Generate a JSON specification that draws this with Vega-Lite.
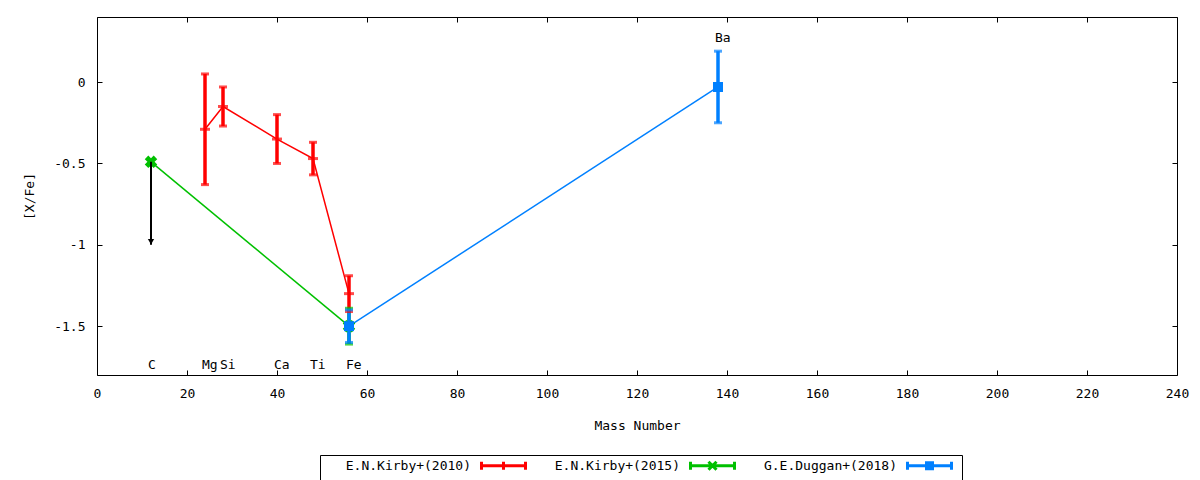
{
  "$schema": "https://vega.github.io/schema/vega-lite/v6.json",
  "width": 1080,
  "height": 358,
  "autosize": "none",
  "padding": {"left": 97, "top": 17, "right": 23, "bottom": 105},
  "background": "white",
  "config": {
    "font": "DejaVu Sans Mono",
    "view": {"stroke": "black", "strokeWidth": 1},
    "axis": {
      "domain": false,
      "grid": false,
      "tickColor": "black",
      "tickSize": -5,
      "tickWidth": 1,
      "labelColor": "black",
      "labelFont": "DejaVu Sans Mono",
      "labelFontSize": 13,
      "labelFlush": false,
      "titleFont": "DejaVu Sans Mono",
      "titleFontSize": 13,
      "titleFontWeight": "normal",
      "titleColor": "black"
    },
    "legend": {
      "orient": "none",
      "legendX": 223,
      "legendY": 438,
      "direction": "horizontal",
      "columns": 3,
      "title": " ",
      "titleOrient": "left",
      "titlePadding": 173,
      "titleFontSize": 13,
      "strokeColor": "black",
      "fillColor": "white",
      "padding": 4,
      "cornerRadius": 0,
      "columnPadding": 22,
      "labelAlign": "right",
      "labelOffset": -39,
      "labelFont": "DejaVu Sans Mono",
      "labelFontSize": 13,
      "labelColor": "black",
      "labelLimit": 300,
      "symbolSize": 100,
      "symbolStrokeWidth": 3,
      "symbolOpacity": 1
    }
  },
  "datasets": {
    "pts": [
      {"series": "E.N.Kirby+(2010)", "elem": "Mg", "mass": 24, "xfe": -0.29, "lo": -0.63, "hi": 0.05},
      {"series": "E.N.Kirby+(2010)", "elem": "Si", "mass": 28, "xfe": -0.15, "lo": -0.27, "hi": -0.03},
      {"series": "E.N.Kirby+(2010)", "elem": "Ca", "mass": 40, "xfe": -0.35, "lo": -0.50, "hi": -0.20},
      {"series": "E.N.Kirby+(2010)", "elem": "Ti", "mass": 48, "xfe": -0.47, "lo": -0.57, "hi": -0.37},
      {"series": "E.N.Kirby+(2010)", "elem": "Fe", "mass": 56, "xfe": -1.30, "lo": -1.41, "hi": -1.19},
      {"series": "E.N.Kirby+(2015)", "elem": "C", "mass": 12, "xfe": -0.49, "lo": null, "hi": null},
      {"series": "E.N.Kirby+(2015)", "elem": "Fe", "mass": 56, "xfe": -1.50, "lo": -1.61, "hi": -1.39},
      {"series": "G.E.Duggan+(2018)", "elem": "Fe", "mass": 56, "xfe": -1.50, "lo": -1.60, "hi": -1.40},
      {"series": "G.E.Duggan+(2018)", "elem": "Ba", "mass": 138, "xfe": -0.03, "lo": -0.25, "hi": 0.19}
    ],
    "limits": [
      {"elem": "C", "mass": 12, "from": -0.49, "to": -1.0}
    ],
    "labels": [
      {"elem": "C", "mass": 12, "y": -1.737},
      {"elem": "Mg", "mass": 24, "y": -1.737},
      {"elem": "Si", "mass": 28, "y": -1.737},
      {"elem": "Ca", "mass": 40, "y": -1.737},
      {"elem": "Ti", "mass": 48, "y": -1.737},
      {"elem": "Fe", "mass": 56, "y": -1.737},
      {"elem": "Ba", "mass": 138, "y": 0.268}
    ]
  },
  "resolve": {
    "axis": {"x": "independent", "y": "independent"},
    "legend": {"color": "independent", "shape": "independent"}
  },
  "layer": [
    {
      "data": {"name": "pts"},
      "mark": {"type": "line", "strokeWidth": 1.5},
      "encoding": {
        "x": {
          "field": "mass",
          "type": "quantitative",
          "scale": {"domain": [0, 240], "nice": false, "zero": false},
          "axis": {
            "orient": "bottom",
            "values": [0, 20, 40, 60, 80, 100, 120, 140, 160, 180, 200, 220, 240],
            "title": "Mass Number",
            "labelPadding": 17,
            "titlePadding": 19
          }
        },
        "y": {
          "field": "xfe",
          "type": "quantitative",
          "scale": {"domain": [-1.8, 0.4], "nice": false, "zero": false},
          "axis": {
            "orient": "left",
            "values": [-1.5, -1, -0.5, 0],
            "labelExpr": "'' + datum.value",
            "title": "[X/Fe]",
            "labelPadding": 17,
            "titlePadding": 17
          }
        },
        "color": {
          "field": "series",
          "type": "nominal",
          "scale": {
            "domain": ["E.N.Kirby+(2010)", "E.N.Kirby+(2015)", "G.E.Duggan+(2018)"],
            "range": ["#ff0000", "#00c000", "#0080ff"]
          },
          "legend": null
        },
        "order": {"field": "mass"}
      }
    },
    {
      "data": {"name": "pts"},
      "transform": [{"filter": "isValid(datum.lo)"}],
      "mark": {"type": "rule", "strokeWidth": 3.5},
      "encoding": {
        "x": {"field": "mass", "type": "quantitative", "axis": null},
        "y": {"field": "lo", "type": "quantitative", "axis": null},
        "y2": {"field": "hi"},
        "color": {"field": "series", "type": "nominal", "legend": null}
      }
    },
    {
      "data": {"name": "pts"},
      "transform": [{"filter": "isValid(datum.lo)"}],
      "mark": {"type": "tick", "orient": "horizontal", "size": 8, "thickness": 3},
      "encoding": {
        "x": {"field": "mass", "type": "quantitative", "axis": null},
        "y": {"field": "lo", "type": "quantitative", "axis": null},
        "color": {"field": "series", "type": "nominal", "legend": null}
      }
    },
    {
      "data": {"name": "pts"},
      "transform": [{"filter": "isValid(datum.hi)"}],
      "mark": {"type": "tick", "orient": "horizontal", "size": 8, "thickness": 3},
      "encoding": {
        "x": {"field": "mass", "type": "quantitative", "axis": null},
        "y": {"field": "hi", "type": "quantitative", "axis": null},
        "color": {"field": "series", "type": "nominal", "legend": null}
      }
    },
    {
      "data": {"name": "pts"},
      "transform": [{"filter": "datum.series == 'E.N.Kirby+(2010)'"}],
      "mark": {"type": "tick", "orient": "horizontal", "size": 10, "thickness": 3},
      "encoding": {
        "x": {"field": "mass", "type": "quantitative", "axis": null},
        "y": {"field": "xfe", "type": "quantitative", "axis": null},
        "color": {"field": "series", "type": "nominal", "legend": null}
      }
    },
    {
      "data": {"name": "pts"},
      "transform": [{"filter": "datum.series == 'E.N.Kirby+(2015)'"}],
      "mark": {"type": "point", "shape": "cross", "angle": 45, "filled": true, "size": 160, "opacity": 1},
      "encoding": {
        "x": {"field": "mass", "type": "quantitative", "axis": null},
        "y": {"field": "xfe", "type": "quantitative", "axis": null},
        "color": {"field": "series", "type": "nominal", "legend": null}
      }
    },
    {
      "data": {"name": "pts"},
      "transform": [{"filter": "datum.series == 'G.E.Duggan+(2018)'"}],
      "mark": {"type": "point", "shape": "square", "filled": true, "size": 100, "opacity": 1},
      "encoding": {
        "x": {"field": "mass", "type": "quantitative", "axis": null},
        "y": {"field": "xfe", "type": "quantitative", "axis": null},
        "color": {"field": "series", "type": "nominal", "legend": null}
      }
    },
    {
      "data": {"name": "limits"},
      "mark": {"type": "rule", "color": "black", "strokeWidth": 2},
      "encoding": {
        "x": {"field": "mass", "type": "quantitative", "axis": null},
        "y": {"field": "from", "type": "quantitative", "axis": null},
        "y2": {"field": "to"}
      }
    },
    {
      "data": {"name": "limits"},
      "mark": {"type": "point", "shape": "triangle-down", "filled": true, "color": "black", "size": 40, "opacity": 1, "yOffset": -3},
      "encoding": {
        "x": {"field": "mass", "type": "quantitative", "axis": null},
        "y": {"field": "to", "type": "quantitative", "axis": null}
      }
    },
    {
      "data": {"name": "labels"},
      "mark": {"type": "text", "align": "left", "baseline": "middle", "dx": -3, "fontSize": 13, "font": "DejaVu Sans Mono", "color": "black"},
      "encoding": {
        "x": {
          "field": "mass",
          "type": "quantitative",
          "axis": {
            "orient": "top",
            "values": [0, 20, 40, 60, 80, 100, 120, 140, 160, 180, 200, 220, 240],
            "labels": false,
            "title": null
          }
        },
        "y": {
          "field": "y",
          "type": "quantitative",
          "axis": {
            "orient": "right",
            "values": [-1.5, -1, -0.5, 0],
            "labels": false,
            "title": null
          }
        },
        "text": {"field": "elem"}
      }
    },
    {
      "data": {"name": "pts"},
      "transform": [{"filter": "false"}],
      "mark": {"type": "point", "filled": false},
      "encoding": {
        "x": {"field": "mass", "type": "quantitative", "axis": null},
        "y": {"field": "xfe", "type": "quantitative", "axis": null},
        "color": {
          "field": "series",
          "type": "nominal",
          "legend": {"title": " ", "labelExpr": "length(datum.label) < 17 ? ' ' + datum.label : datum.label"}
        },
        "shape": {
          "field": "series",
          "type": "nominal",
          "scale": {
            "domain": ["E.N.Kirby+(2010)", "E.N.Kirby+(2015)", "G.E.Duggan+(2018)"],
            "range": [
              "M-4.4,0H4.4M-4.4,-0.8V0.8M4.4,-0.8V0.8M0,-0.8V0.8",
              "M-4.4,0H4.4M-4.4,-0.8V0.8M4.4,-0.8V0.8M-0.8,-0.8L0.8,0.8M-0.8,0.8L0.8,-0.8",
              "M-4.4,0H4.4M-4.4,-0.8V0.8M4.4,-0.8V0.8M-0.9,-0.6H0.9M-0.9,0H0.9M-0.9,0.6H0.9"
            ]
          },
          "legend": {"title": " ", "labelExpr": "length(datum.label) < 17 ? ' ' + datum.label : datum.label"}
        }
      }
    }
  ]
}
